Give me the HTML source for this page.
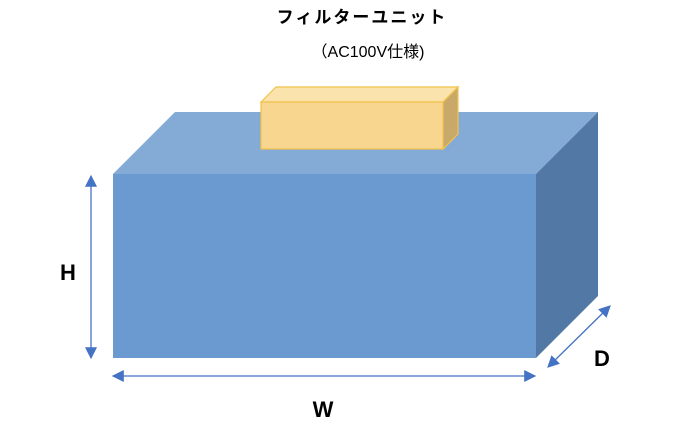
<!DOCTYPE html>
<html><head><meta charset="utf-8"><style>
body{margin:0;background:#fff;width:700px;height:430px;overflow:hidden}
</style></head><body>
<svg width="700" height="430" viewBox="0 0 700 430" xmlns="http://www.w3.org/2000/svg">
<defs>
<marker id="a" viewBox="0 0 10 10" refX="9" refY="5" markerWidth="12" markerHeight="12" orient="auto-start-reverse" markerUnits="userSpaceOnUse"><path d="M0,0L10,5L0,10z" fill="#4472c4"/></marker>
</defs>
<polygon points="113,174 175,112 598,112 536,174" fill="#84aad6"/>
<polygon points="536,174 598,112 598,296 536,358" fill="#5279a6"/>
<rect x="113" y="174" width="423" height="184" fill="#6a9acf"/>
<polygon points="261,102 276,87 458,87 443,102" fill="#fae3ad" stroke="#f2c24a" stroke-width="1.2"/>
<polygon points="443,102 458,87 458,134 443,149" fill="#c9a96a" stroke="#f2c24a" stroke-width="1.2"/>
<rect x="261" y="102" width="182" height="47" fill="#f8d690" stroke="#f2c24a" stroke-width="1.2"/>
<g stroke="#4472c4" stroke-width="1.3" fill="none">
<line x1="91" y1="176" x2="91" y2="358" marker-start="url(#a)" marker-end="url(#a)"/>
<line x1="113" y1="376" x2="535" y2="376" marker-start="url(#a)" marker-end="url(#a)"/>
<line x1="548" y1="367" x2="610" y2="306" marker-start="url(#a)" marker-end="url(#a)"/>
</g>
<g font-family="Liberation Sans, Noto Sans CJK JP, sans-serif" fill="#000">
<text x="362" y="23" font-size="17" font-weight="bold" text-anchor="middle" letter-spacing="2">フィルターユニット</text>
<text x="368" y="57" font-size="16" text-anchor="middle">（AC100V仕様)</text>
<text x="68" y="280" font-size="22" font-weight="bold" text-anchor="middle">H</text>
<text x="323" y="417" font-size="22" font-weight="bold" text-anchor="middle">W</text>
<text x="602" y="366" font-size="22" font-weight="bold" text-anchor="middle">D</text>
</g>
</svg>
</body></html>
